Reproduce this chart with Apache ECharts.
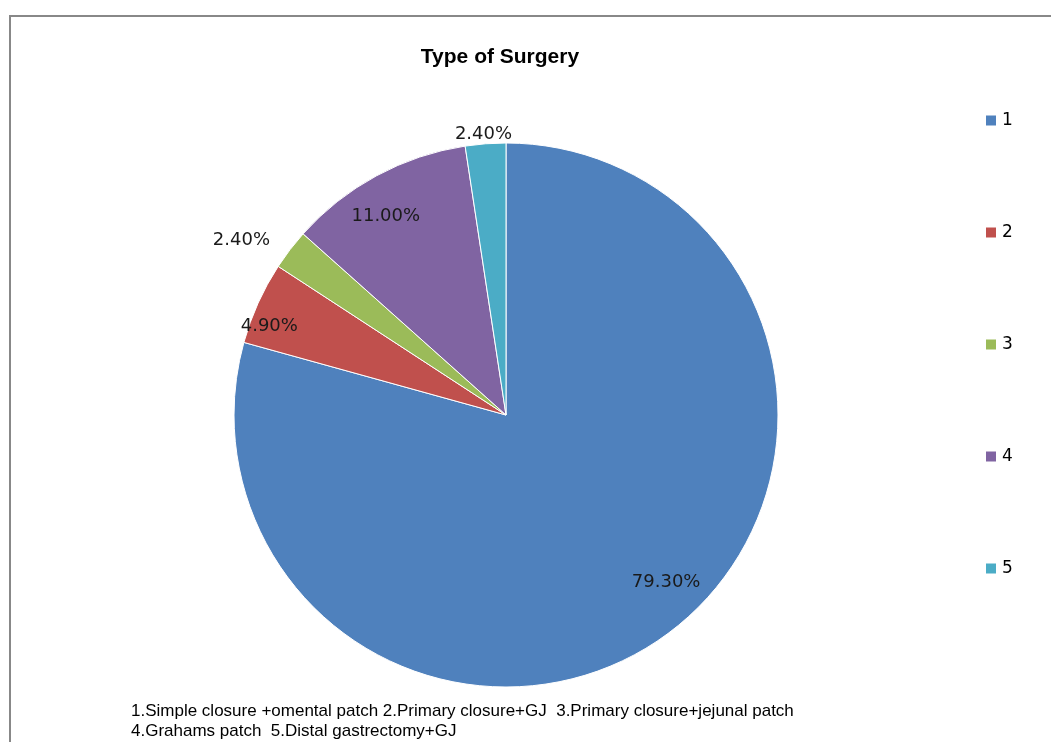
<!DOCTYPE html>
<html>
<head>
<meta charset="utf-8">
<script src="https://cdn.jsdelivr.net/npm/echarts@6/dist/echarts.min.js"></script>
<style>
  html, body { margin: 0; padding: 0; background: #fff; }
  #chart { width: 1051px; height: 742px; }
</style>
</head>
<body>
<div id="chart"></div>
<script>
// 手术类型及占比（%）
const categories = ['1', '2', '3', '4', '5']
const values = [79.3, 4.9, 2.4, 11.0, 2.4]
const colors = ['#4F81BD', '#C0504D', '#9BBB59', '#8064A2', '#4BACC6']
// 标签位置：inside / outside
const labelPositions = ['inside', 'inside', 'outside', 'inside', 'outside']
const footnote = [
  '1.Simple closure +omental patch 2.Primary closure+GJ  3.Primary closure+jejunal patch',
  '4.Grahams patch  5.Distal gastrectomy+GJ'
]

// 标签微调偏移（像素）
const labelShift = [[76, 57], [-110, -31], [-15, -9], [-54, -76], [3, -9]]

const chart = echarts.init(document.getElementById('chart'))

const option = {
  animation: false,
  title: {
    text: 'Type of Surgery',
    left: 495,
    top: 42,
    textAlign: 'center',
    textStyle: {
      fontFamily: 'Liberation Sans',
      fontWeight: 'bold',
      fontSize: 21,
      color: '#000'
    }
  },
  legend: {
    orient: 'vertical',
    left: 979,
    top: 107,
    itemWidth: 12,
    itemHeight: 12,
    itemGap: 95,
    icon: 'rect',
    data: categories,
    textStyle: {
      fontFamily: 'DejaVu Sans',
      fontSize: 17,
      lineHeight: 16,
      color: '#000'
    }
  },
  graphic: [
    {
      type: 'rect',
      shape: { x: 10, y: 16, width: 1200, height: 900 },
      style: { fill: 'none', stroke: '#888', lineWidth: 2 },
      silent: true
    },
    {
      type: 'text',
      left: 131,
      top: 701,
      style: {
        text: footnote.join('\n'),
        fontFamily: 'Liberation Sans',
        fontSize: 17,
        lineHeight: 20,
        fill: '#000'
      }
    }
  ],
  series: [
    {
      type: 'pie',
      center: [506, 415],
      radius: 272,
      startAngle: 90,
      clockwise: true,
      avoidLabelOverlap: false,
      itemStyle: { borderColor: '#fff', borderWidth: 1 },
      label: {
        formatter: p => p.value.toFixed(2) + '%',
        fontFamily: 'DejaVu Sans',
        fontSize: 18,
        color: '#1a1a1a'
      },
      labelLine: { show: false, length: 0, length2: 0 },
      labelLayout: params => {
        const s = labelShift[params.dataIndex]
        const out = { dx: s[0], dy: s[1] }
        if (params.dataIndex === 4) out.align = 'center'
        return out
      },
      emphasis: { disabled: true },
      data: categories.map((c, i) => ({
        name: c,
        value: values[i],
        itemStyle: { color: colors[i] },
        label: { position: labelPositions[i] }
      }))
    }
  ]
}

chart.setOption(option)
</script>
</body>
</html>
